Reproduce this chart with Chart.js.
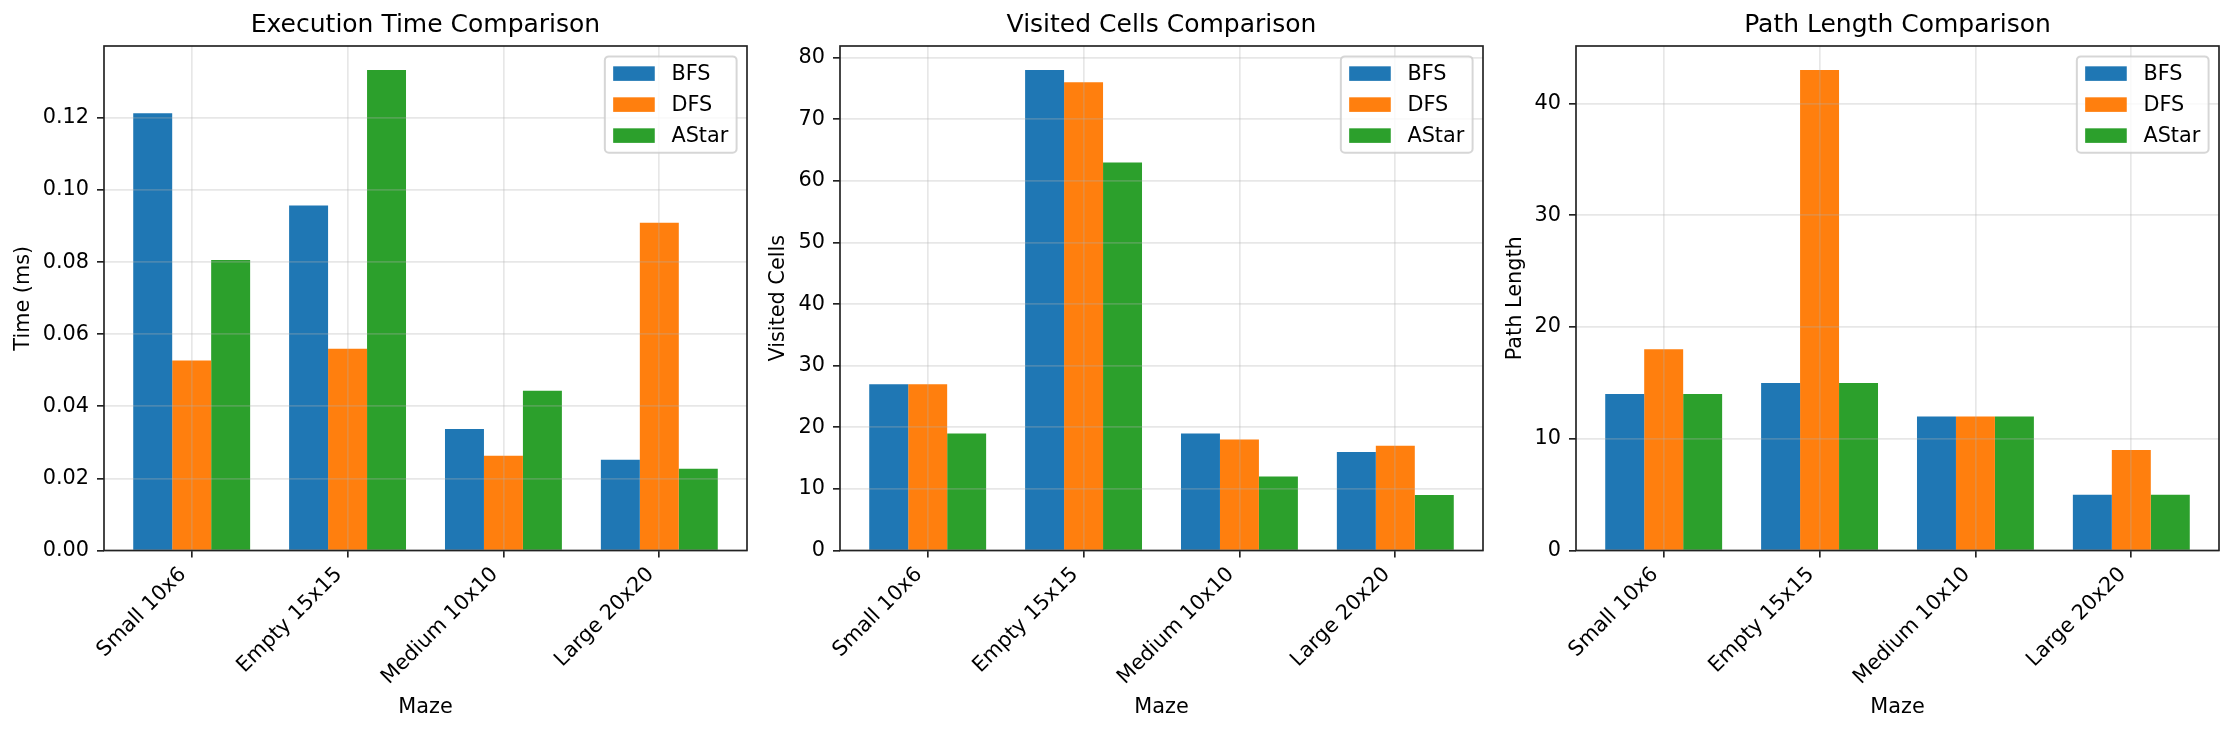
<!DOCTYPE html>
<html>
<head>
<meta charset="utf-8">
<script src="https://cdn.jsdelivr.net/npm/chart.js@4.4.1/dist/chart.umd.min.js"></script>
<style>
html, body { margin:0; padding:0; background:#fff; }
body { width:2233px; height:733px; overflow:hidden; position:relative; }
canvas { position:absolute; top:0; }
</style>
</head>
<body>
<canvas id="c1"></canvas>
<canvas id="c2"></canvas>
<canvas id="c3"></canvas>
<script>
// ---------- DATA ----------
const mazes = ['Small 10x6', 'Empty 15x15', 'Medium 10x10', 'Large 20x20'];
const algorithms = ['BFS', 'DFS', 'AStar'];

const timeBFS   = [0.1213, 0.0957, 0.0337, 0.0252];
const timeDFS   = [0.0527, 0.0560, 0.0263, 0.0909];
const timeAStar = [0.0806, 0.1333, 0.0443, 0.0227];

const visitedBFS   = [27, 78, 19, 16];
const visitedDFS   = [27, 76, 18, 17];
const visitedAStar = [19, 63, 12, 9];

const pathBFS   = [14, 15, 12, 5];
const pathDFS   = [18, 43, 12, 9];
const pathAStar = [14, 15, 12, 5];

const timeTicks    = [0, 0.02, 0.04, 0.06, 0.08, 0.10, 0.12];
const visitedTicks = [0, 10, 20, 30, 40, 50, 60, 70, 80];
const pathTicks    = [0, 10, 20, 30, 40];

const titles  = ['Execution Time Comparison', 'Visited Cells Comparison', 'Path Length Comparison'];
const yTitles = ['Time (ms)', 'Visited Cells', 'Path Length'];
const xTitle  = 'Maze';
const colors  = ['#1f77b4', '#ff7f0e', '#2ca02c'];

// ---------- LAYOUT / STYLE ----------
const FONT = '"DejaVu Sans", "Liberation Sans", sans-serif';
const FS = 20.8;
const H = 733;
const AX_TOP = 46, AX_BOTTOM = 550.5, AX_W = 643;
const BAR_W = 0.25;
const X_PAD = (mazes.length - 1 + 3 * BAR_W) * 0.05;
const X_MIN = -1.5 * BAR_W - X_PAD;
const X_MAX = (mazes.length - 1) + 1.5 * BAR_W + X_PAD;
const GRID = 'rgba(176,176,176,0.3)';
const INK = '#222';

Chart.defaults.font.family = FONT;

const frameAndLegend = {
  id: 'frameAndLegend',
  afterDraw(chart) {
    const ctx = chart.ctx, a = chart.chartArea;
    ctx.save();
    // axes frame
    ctx.strokeStyle = INK;
    ctx.lineWidth = 1.67;
    ctx.strokeRect(a.left, a.top, a.right - a.left, a.bottom - a.top);
    // legend (upper right, matplotlib style)
    ctx.font = FS + 'px ' + FONT;
    const ds = chart.data.datasets;
    const tw = Math.max(...ds.map(d => ctx.measureText(d.label).width));
    const pad = 0.4 * FS, hl = 2 * FS, htp = 0.8 * FS, rowH = 31, edge = 17.2;
    const w = pad + hl + htp + tw + pad;
    const h = edge * 2 + rowH * (ds.length - 1);
    const right = a.right - 0.5 * FS, top = a.top + 0.5 * FS, left = right - w;
    const r = 4;
    ctx.beginPath();
    ctx.moveTo(left + r, top);
    ctx.lineTo(right - r, top);
    ctx.arcTo(right, top, right, top + r, r);
    ctx.lineTo(right, top + h - r);
    ctx.arcTo(right, top + h, right - r, top + h, r);
    ctx.lineTo(left + r, top + h);
    ctx.arcTo(left, top + h, left, top + h - r, r);
    ctx.lineTo(left, top + r);
    ctx.arcTo(left, top, left + r, top, r);
    ctx.closePath();
    ctx.fillStyle = 'rgba(255,255,255,0.8)';
    ctx.fill();
    ctx.strokeStyle = 'rgba(204,204,204,0.8)';
    ctx.lineWidth = 2;
    ctx.stroke();
    ds.forEach((d, i) => {
      const cy = top + edge + i * rowH;
      ctx.fillStyle = d.backgroundColor;
      ctx.fillRect(left + pad, cy - 0.35 * FS, hl, 0.7 * FS);
      ctx.fillStyle = '#000';
      ctx.textBaseline = 'middle';
      ctx.textAlign = 'left';
      ctx.fillText(d.label, left + pad + hl + htp, cy + 1);
    });
    ctx.restore();
  }
};

const panels = [
  { id: 'c1', x0: 0,    axLeft: 104,  yTitleX: 23.4, series: [timeBFS, timeDFS, timeAStar],          ticks: timeTicks,    fmt: v => v.toFixed(2) },
  { id: 'c2', x0: 760,  axLeft: 840,  yTitleX: 19,   series: [visitedBFS, visitedDFS, visitedAStar], ticks: visitedTicks, fmt: v => String(v) },
  { id: 'c3', x0: 1496, axLeft: 1576, yTitleX: 19.4, series: [pathBFS, pathDFS, pathAStar],          ticks: pathTicks,    fmt: v => String(v) }
];

panels.forEach((p, k) => {
  const PAD_R = 12;
  const cw = p.axLeft + AX_W + PAD_R - p.x0;
  const cv = document.getElementById(p.id);
  cv.width = cw; cv.height = H;
  cv.style.left = p.x0 + 'px';
  cv.style.width = cw + 'px'; cv.style.height = H + 'px';
  const yMax = Math.max(...p.series.flat()) * 1.05;

  new Chart(cv, {
    type: 'bar',
    data: {
      datasets: algorithms.map((name, j) => ({
        label: name,
        data: p.series[j].map((v, i) => ({ x: i, y: v })),
        backgroundColor: colors[j],
        borderWidth: 0,
        categoryPercentage: 3 * BAR_W,
        barPercentage: 1.0
      }))
    },
    options: {
      responsive: false,
      animation: false,
      devicePixelRatio: 1,
      layout: { padding: { left: 0, right: PAD_R, top: 0, bottom: 0 } },
      plugins: {
        legend: { display: false },
        tooltip: { enabled: false },
        title: {
          display: true, text: titles[k], color: '#000', fullSize: false,
          font: { family: FONT, size: 25, weight: 'normal', lineHeight: 1.2 },
          padding: { top: 10.3, bottom: AX_TOP - 10.3 - 30 }
        }
      },
      scales: {
        x: {
          type: 'linear', min: X_MIN, max: X_MAX, offset: false,
          afterBuildTicks: s => { s.ticks = mazes.map((_, i) => ({ value: i })); },
          afterFit: s => { s.height = H - AX_BOTTOM; },
          border: { display: false },
          grid: { z: 1, offset: false, color: GRID, lineWidth: 1.67, drawTicks: true,
                  tickLength: 7, tickColor: INK, tickWidth: 1.67 },
          ticks: { autoSkip: false, maxRotation: 45, minRotation: 45, padding: 5, labelOffset: -8.6,
                   color: '#000', font: { family: FONT, size: FS }, callback: v => mazes[Math.round(v)] },
          title: { display: true, text: xTitle, color: '#000',
                   font: { family: FONT, size: FS, lineHeight: 1 }, padding: { top: 0, bottom: 15.1 } }
        },
        y: {
          type: 'linear', min: 0, max: yMax,
          afterBuildTicks: s => { s.ticks = p.ticks.map(v => ({ value: v })); },
          afterFit: s => { s.width = p.axLeft - p.x0; },
          border: { display: false },
          grid: { z: 1, color: GRID, lineWidth: 1.67, drawTicks: true,
                  tickLength: 7, tickColor: INK, tickWidth: 1.67 },
          ticks: { padding: 8, color: '#000', font: { family: FONT, size: FS },
                   callback: v => p.fmt(v) },
          title: { display: true, text: yTitles[k], color: '#000',
                   font: { family: FONT, size: FS, lineHeight: 1 },
                   padding: { top: p.yTitleX - FS / 2, bottom: 0 } }
        }
      }
    },
    plugins: [frameAndLegend]
  });
});
</script>
</body>
</html>
